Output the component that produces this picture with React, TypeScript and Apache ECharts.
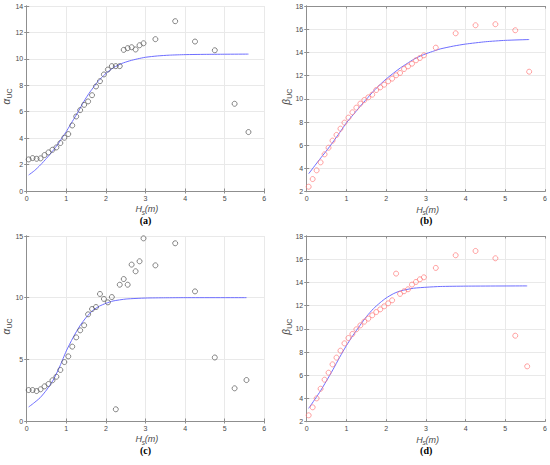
import React, { useEffect, useRef } from "react";
import * as echarts from "echarts";

// ---- data ----
const hsAB = [0.05, 0.15, 0.25, 0.35, 0.45, 0.55, 0.65, 0.75, 0.85, 0.95, 1.05, 1.15, 1.25, 1.35, 1.45, 1.55, 1.65, 1.75, 1.85, 1.95, 2.05, 2.15, 2.25, 2.35, 2.45, 2.55, 2.65, 2.75, 2.85, 2.95, 3.25, 3.75, 4.25, 4.75, 5.25, 5.6];
const hsCD = [0.05, 0.15, 0.25, 0.35, 0.45, 0.55, 0.65, 0.75, 0.85, 0.95, 1.05, 1.15, 1.25, 1.35, 1.45, 1.55, 1.65, 1.75, 1.85, 1.95, 2.05, 2.15, 2.25, 2.35, 2.45, 2.55, 2.65, 2.75, 2.85, 2.95, 3.25, 3.75, 4.25, 4.75, 5.25, 5.55];

const alphaA = [2.39, 2.49, 2.44, 2.47, 2.72, 2.92, 3.12, 3.3, 3.63, 4.03, 4.31, 4.96, 5.64, 6.12, 6.52, 6.78, 7.25, 7.91, 8.31, 8.82, 9.19, 9.45, 9.45, 9.45, 10.68, 10.81, 10.88, 10.71, 11.03, 11.18, 11.49, 12.85, 11.31, 10.65, 6.6, 4.46];
const betaB = [2.43, 3.09, 3.84, 4.53, 5.22, 5.79, 6.4, 6.89, 7.43, 7.95, 8.38, 8.84, 9.24, 9.59, 9.9, 10.13, 10.36, 10.76, 10.99, 11.22, 11.51, 11.74, 12.03, 12.23, 12.57, 12.8, 13.03, 13.32, 13.52, 13.75, 14.41, 15.65, 16.34, 16.43, 15.91, 12.34];
const alphaC = [2.51, 2.51, 2.43, 2.57, 2.81, 3.0, 3.3, 3.59, 4.14, 4.78, 5.24, 6.03, 6.78, 7.35, 7.76, 8.65, 9.08, 9.24, 10.3, 9.9, 9.62, 10.05, 0.95, 11.05, 11.51, 11.05, 12.68, 12.14, 12.95, 14.81, 12.62, 14.41, 10.51, 5.15, 2.65, 3.32];
const betaD = [2.55, 3.24, 4.01, 4.84, 5.62, 6.22, 6.94, 7.52, 8.12, 8.75, 9.21, 9.56, 9.96, 10.3, 10.62, 10.88, 11.17, 11.45, 11.68, 11.94, 12.2, 12.46, 14.76, 13.01, 13.24, 13.41, 13.81, 14.04, 14.27, 14.44, 15.25, 16.34, 16.71, 16.08, 9.41, 6.77];

const fitAX = [0.05, 0.2, 0.35, 0.5, 0.65, 0.8, 0.9, 1.0, 1.1, 1.2, 1.3, 1.4, 1.5, 1.6, 1.7, 1.8, 1.9, 2.0, 2.2, 2.4, 2.6, 2.8, 3.0, 3.3, 3.6, 4.0, 4.5, 5.0, 5.6];
const fitAY = [1.21, 1.55, 1.98, 2.47, 3.0, 3.6, 4.05, 4.5, 5.0, 5.5, 6.0, 6.55, 7.05, 7.5, 7.9, 8.3, 8.6, 8.9, 9.35, 9.65, 9.85, 10.0, 10.12, 10.22, 10.28, 10.32, 10.34, 10.35, 10.36];
const fitBX = [0.05, 0.32, 0.49, 0.66, 0.83, 1.0, 1.17, 1.34, 1.51, 1.68, 1.85, 2.0, 2.19, 2.36, 2.53, 2.69, 2.86, 3.03, 3.2, 3.36, 3.7, 4.0, 4.5, 5.0, 5.6];
const fitBY = [3.55, 4.76, 5.49, 6.27, 7.09, 7.93, 8.63, 9.33, 9.99, 10.66, 11.24, 11.71, 12.23, 12.67, 13.05, 13.4, 13.69, 13.92, 14.12, 14.3, 14.55, 14.72, 14.92, 15.04, 15.11];
const fitCX = [0.05, 0.17, 0.34, 0.5, 0.67, 0.84, 1.0, 1.17, 1.34, 1.51, 1.67, 1.84, 2.0, 2.18, 2.51, 3.01, 3.5, 4.0, 5.55];
const fitCY = [1.14, 1.43, 1.89, 2.51, 3.32, 4.46, 5.68, 6.76, 7.7, 8.43, 8.97, 9.32, 9.54, 9.73, 9.89, 9.97, 9.99, 10.0, 10.0];
const fitDX = [0.05, 0.32, 0.49, 0.66, 0.83, 1.0, 1.17, 1.34, 1.51, 1.68, 1.85, 2.0, 2.19, 2.36, 2.69, 3.03, 3.36, 4.0, 5.55];
const fitDY = [3.15, 4.51, 5.47, 6.48, 7.55, 8.56, 9.46, 10.29, 11.08, 11.74, 12.26, 12.66, 13.04, 13.27, 13.5, 13.59, 13.65, 13.68, 13.7];

const yMin = [0, 2, 0, 2];
const yMax = [14, 18, 15, 18];
const yStep = [2, 2, 5, 2];
const captions = ["(a)", "(b)", "(c)", "(d)"];
const yNames = ["α", "β", "α", "β"];

const FRAME = "#8f8f8f";
const GRIDC = "#e9e9e9";
const TXT = "#4a4a4a";
const SANS = "'Liberation Sans', Arial, sans-serif";

const boxes = [
  { left: 26.7, top: 6, width: 237.6, height: 185 },
  { left: 306.7, top: 6, width: 239, height: 185.7 },
  { left: 26.7, top: 236, width: 237.6, height: 185 },
  { left: 306.7, top: 236, width: 239, height: 185.7 },
];

function zip(xs: number[], ys: number[]) {
  return xs.map((x, i) => [x, ys[i]]);
}

export default function App() {
  const ref = useRef<HTMLDivElement>(null);
  useEffect(() => {
    if (!ref.current) return;
    const chart = echarts.init(ref.current, null, { renderer: "svg" });

    const pts = [zip(hsAB, alphaA), zip(hsAB, betaB), zip(hsCD, alphaC), zip(hsCD, betaD)];
    const fits = [zip(fitAX, fitAY), zip(fitBX, fitBY), zip(fitCX, fitCY), zip(fitDX, fitDY)];
    const markColors = ["#555555", "#ff7a7a", "#555555", "#ff7a7a"];

    const grid: any[] = [];
    const xAxis: any[] = [];
    const yAxis: any[] = [];
    const series: any[] = [];
    const graphic: any[] = [];

    boxes.forEach((b, i) => {
      grid.push({ left: b.left, top: b.top, width: b.width, height: b.height, containLabel: false });
      const common = {
        gridIndex: i,
        axisLine: { show: true, lineStyle: { color: FRAME, width: 1 } },
        axisTick: { show: true, inside: true, length: 2.5, lineStyle: { color: FRAME } },
      };
      xAxis.push({
        ...common,
        type: "value",
        position: "bottom",
        min: 0,
        max: 6,
        interval: 1,
        axisLabel: { show: true, fontSize: 7, color: TXT, fontFamily: SANS, margin: 3.5 },
        splitLine: { show: true, lineStyle: { color: GRIDC, width: 1 } },
      });
      xAxis.push({
        ...common,
        type: "value",
        position: "top",
        min: 0,
        max: 6,
        interval: 1,
        axisLabel: { show: false },
        splitLine: { show: false },
      });
      yAxis.push({
        ...common,
        type: "value",
        position: "left",
        min: yMin[i],
        max: yMax[i],
        interval: yStep[i],
        axisLabel: { show: true, fontSize: 7, color: TXT, fontFamily: SANS, margin: 3.5 },
        splitLine: { show: true, lineStyle: { color: GRIDC, width: 1 } },
      });
      yAxis.push({
        ...common,
        type: "value",
        position: "right",
        min: yMin[i],
        max: yMax[i],
        interval: yStep[i],
        axisLabel: { show: false },
        splitLine: { show: false },
      });

      series.push({
        type: "scatter",
        xAxisIndex: i * 2,
        yAxisIndex: i * 2,
        data: pts[i],
        symbol: "circle",
        symbolSize: 5,
        itemStyle: { color: "rgba(255,255,255,0)", borderColor: markColors[i], borderWidth: 0.9 },
        z: 3,
      });
      series.push({
        type: "line",
        xAxisIndex: i * 2,
        yAxisIndex: i * 2,
        data: fits[i],
        showSymbol: false,
        symbol: "none",
        smooth: 0.2,
        lineStyle: { color: "#6e6eff", width: 1 },
        z: 2,
      });

      const cx = b.left + b.width / 2;
      const cy = b.top + b.height / 2;
      const bottom = b.top + b.height;

      // x-axis label H_s(m)
      graphic.push({
        type: "group",
        x: cx - 10,
        y: bottom + 18,
        children: [
          { type: "text", x: 0, y: 0, style: { text: "H", fontSize: 9, fontStyle: "italic", fontFamily: SANS, fill: TXT, align: "left", verticalAlign: "middle" } },
          { type: "text", x: 6.3, y: 3, style: { text: "s", fontSize: 6.5, fontStyle: "italic", fontFamily: SANS, fill: TXT, align: "left", verticalAlign: "middle" } },
          { type: "text", x: 9.2, y: 0, style: { text: "(m)", fontSize: 9, fontStyle: "italic", fontFamily: SANS, fill: TXT, align: "left", verticalAlign: "middle" } },
        ],
      });

      // y-axis label α_UC / β_UC, rotated
      graphic.push({
        type: "group",
        x: b.left - 20,
        y: cy - 2,
        rotation: Math.PI / 2,
        children: [
          { type: "text", x: -8, y: 0, style: { text: yNames[i], fontSize: 10, fontStyle: "italic", fontFamily: SANS, fill: TXT, align: "left", verticalAlign: "middle" } },
          { type: "text", x: -2, y: 3, style: { text: "UC", fontSize: 7, fontFamily: SANS, fill: TXT, align: "left", verticalAlign: "middle" } },
        ],
      });

      // caption
      graphic.push({
        type: "text",
        x: cx,
        y: bottom + 29,
        style: {
          text: captions[i],
          fontSize: 10,
          fontWeight: "bold",
          fontFamily: "'Liberation Serif', 'Times New Roman', serif",
          fill: "#000",
          align: "center",
          verticalAlign: "middle",
        },
      });
    });

    chart.setOption({
      animation: false,
      backgroundColor: "#ffffff",
      grid,
      xAxis,
      yAxis,
      series,
      graphic,
    });
    return () => chart.dispose();
  }, []);

  return (
    <div
      ref={ref}
      style={{ position: "fixed", left: 0, top: 0, width: 550, height: 465, background: "#fff" }}
    />
  );
}
